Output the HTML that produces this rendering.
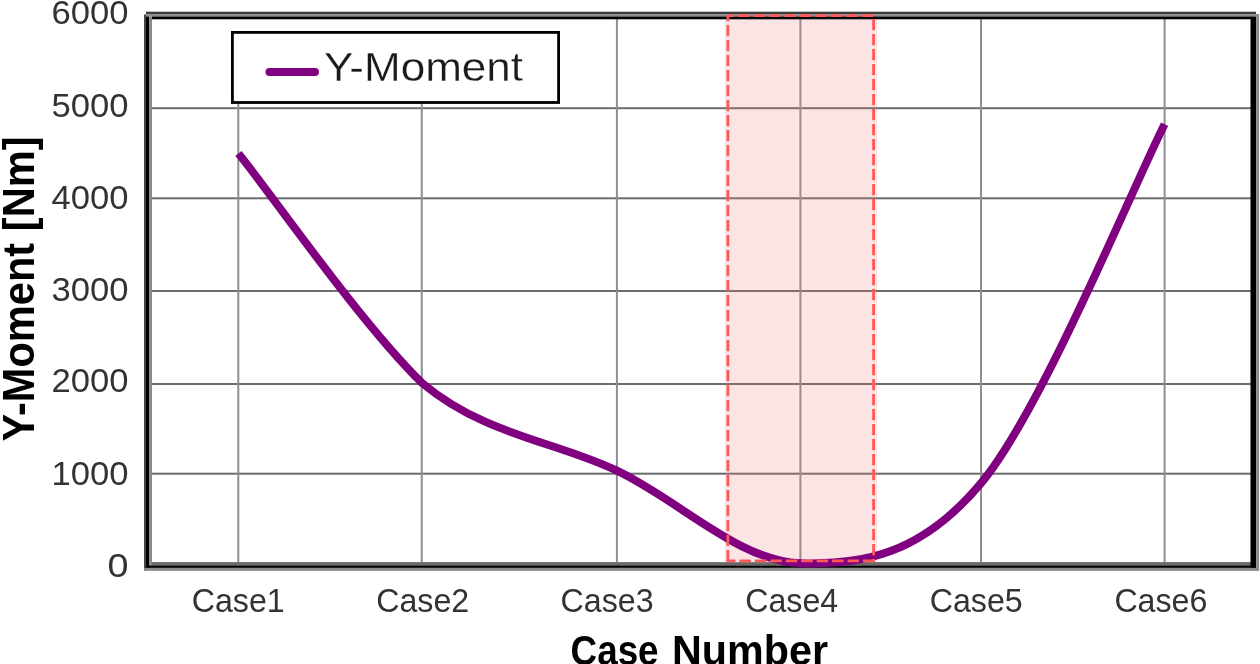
<!DOCTYPE html>
<html><head><meta charset="utf-8">
<style>
html,body{margin:0;padding:0;background:#fff;width:1260px;height:664px;overflow:hidden}
svg{display:block;will-change:transform}
text{font-family:"Liberation Sans",sans-serif;fill:#111}
.tk text{fill:#333}
.lg{stroke:#fff;stroke-width:0.3px;fill:#1a1a1a}
</style></head><body>
<svg width="1260" height="664" viewBox="0 0 1260 664">
<!-- pink highlight fill -->
<!-- gridlines horizontal -->
<g fill="#6c6c6c">
<rect x="152" y="107.2" width="1099" height="2"/>
<rect x="152" y="197.3" width="1099" height="2"/>
<rect x="152" y="290" width="1099" height="2"/>
<rect x="152" y="383" width="1099" height="2"/>
<rect x="152" y="472.7" width="1099" height="2"/>
</g>
<g fill="#8e8e8e">
<rect x="237.3" y="103" width="2" height="459"/>
<rect x="420.75" y="103" width="2" height="459"/>
<rect x="615.9" y="19" width="2" height="543"/>
<rect x="799.4" y="19" width="2" height="543"/>
<rect x="980" y="19" width="2" height="543"/>
<rect x="1163.6" y="19" width="2" height="543"/>
</g>
<rect x="725" y="19" width="152" height="543" fill="rgb(245,120,120)" fill-opacity="0.2"/>
<!-- plot frame -->
<rect x="146" y="11.7" width="1110" height="2.4" fill="#3e3e3e"/>
<rect x="144" y="14.1" width="1115" height="2.4" fill="#8a8a8a"/>
<rect x="152" y="16.5" width="1099" height="2.8" fill="#000"/>
<rect x="144" y="15" width="2" height="556" fill="#484848"/>
<rect x="146" y="16.5" width="3.4" height="552" fill="#000"/>
<rect x="149.4" y="16.5" width="2.6" height="548.6" fill="#8a8a8a"/>
<rect x="152" y="562.1" width="1099" height="3.3" fill="#6a6a6a"/>
<rect x="146" y="565.4" width="1110" height="2.5" fill="#000"/>
<rect x="144" y="567.9" width="1115" height="2.9" fill="#8a8a8a"/>
<rect x="1250.5" y="16.5" width="5.7" height="551" fill="#000"/>
<rect x="1256.2" y="14.1" width="2.9" height="556.7" fill="#8a8a8a"/>
<!-- legend -->
<rect x="232.4" y="32.4" width="326.2" height="70.1" fill="#fff" stroke="#000" stroke-width="2.8"/>
<line x1="269.5" y1="72" x2="315" y2="72" stroke="#800080" stroke-width="8" stroke-linecap="round"/>
<text x="324" y="81.3" font-size="41" class="lg" textLength="199" lengthAdjust="spacingAndGlyphs">Y-Moment</text>
<!-- curve -->
<path d="M238.4,153.5 C267,188 358,320 421.7,382.7 C484.8,435.5 553.9,440.6 616.9,470.7 C679.9,500.8 739.2,561.3 800.0,563.2 C860.8,565.2 920.7,555.8 981.5,482.6 C1042.3,409.4 1134.1,183.9 1164.6,124.2" fill="none" stroke="#800080" stroke-width="8"/>
<!-- highlight dashed border -->
<g stroke="#ff5858" stroke-width="2.8">
<line x1="726.6" y1="15.7" x2="874.9" y2="15.7" stroke-dasharray="11.5 3.95" stroke-dashoffset="4.05"/>
<line x1="873.6" y1="15.7" x2="873.6" y2="562" stroke-dasharray="11.2 3.8" stroke-dashoffset="11.7"/>
<line x1="727.9" y1="15.7" x2="727.9" y2="562" stroke-dasharray="11.2 3.8" stroke-dashoffset="5.6"/>
<line x1="726.6" y1="560.8" x2="874.9" y2="560.8" stroke-dasharray="11.5 3.95" stroke-dashoffset="2.65"/>
</g>
<!-- y tick labels -->
<g font-size="33" text-anchor="end" class="tk">
<text x="128.5" y="23.6" textLength="77" lengthAdjust="spacingAndGlyphs">6000</text>
<text x="128.5" y="117.4" textLength="77" lengthAdjust="spacingAndGlyphs">5000</text>
<text x="128.5" y="209" textLength="77" lengthAdjust="spacingAndGlyphs">4000</text>
<text x="128.5" y="300.7" textLength="77" lengthAdjust="spacingAndGlyphs">3000</text>
<text x="128.5" y="392" textLength="77" lengthAdjust="spacingAndGlyphs">2000</text>
<text x="128.5" y="484.8" textLength="77" lengthAdjust="spacingAndGlyphs">1000</text>
<text x="128.5" y="576.6" textLength="21" lengthAdjust="spacingAndGlyphs">0</text>
</g>
<!-- x tick labels -->
<g font-size="32.7" class="tk">
<text x="191.7" y="611.7" textLength="93" lengthAdjust="spacingAndGlyphs">Case1</text>
<text x="376.2" y="611.7" textLength="93" lengthAdjust="spacingAndGlyphs">Case2</text>
<text x="560.6" y="611.7" textLength="93" lengthAdjust="spacingAndGlyphs">Case3</text>
<text x="745.2" y="611.7" textLength="93" lengthAdjust="spacingAndGlyphs">Case4</text>
<text x="929.7" y="611.7" textLength="93" lengthAdjust="spacingAndGlyphs">Case5</text>
<text x="1114.4" y="611.7" textLength="93" lengthAdjust="spacingAndGlyphs">Case6</text>
</g>
<!-- axis titles -->
<text x="570.6" y="665" font-size="42" font-weight="bold" textLength="88" lengthAdjust="spacingAndGlyphs" style="fill:#000">Case</text><text x="672" y="665" font-size="42" font-weight="bold" textLength="156" lengthAdjust="spacingAndGlyphs" style="fill:#000">Number</text>
<text transform="translate(34,441.5) rotate(-90)" x="0" y="0" font-size="44" font-weight="bold" textLength="305" lengthAdjust="spacingAndGlyphs" style="fill:#000">Y-Moment [Nm]</text>
</svg>
</body></html>
